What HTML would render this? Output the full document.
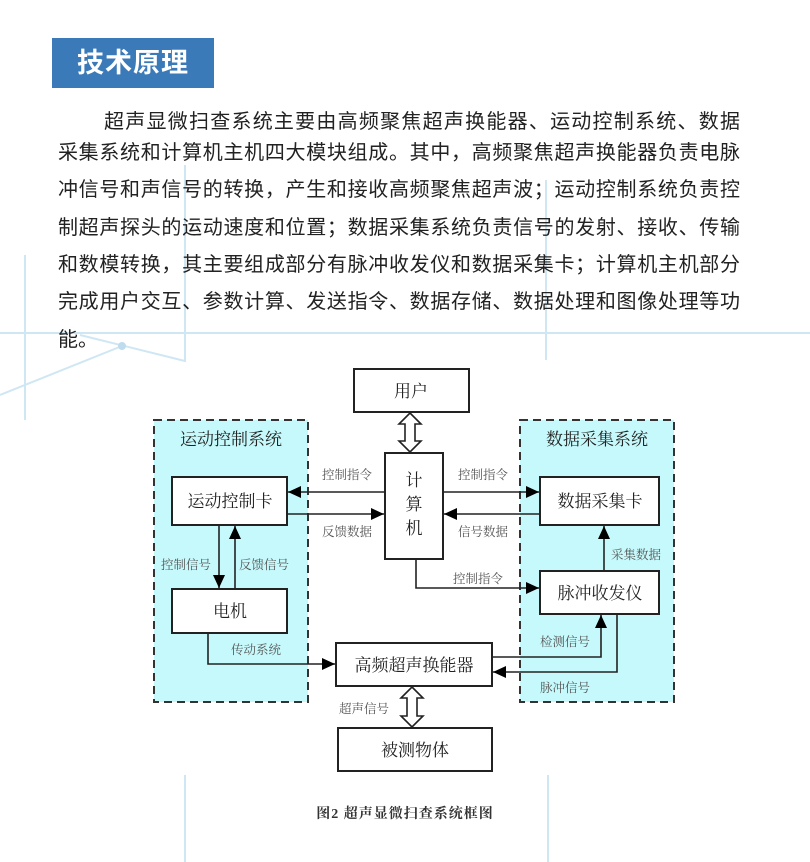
<!DOCTYPE html>
<html><head><meta charset="utf-8">
<style>
html,body{margin:0;padding:0;background:#fff;}
body{width:810px;height:862px;position:relative;overflow:hidden;font-family:"Liberation Sans","Noto Sans CJK SC",sans-serif;}
#bg{position:absolute;left:0;top:0;}
.hdr{position:absolute;left:52px;top:38px;width:162px;height:50px;background:#3a7ab8;color:#fff;font-size:27px;font-weight:bold;line-height:50px;text-align:center;letter-spacing:1px;}
.ln{position:absolute;left:58px;width:682px;height:37px;line-height:37px;font-size:20px;color:#222;text-align:justify;text-align-last:justify;white-space:nowrap;}
#dg{position:absolute;left:0;top:0;}
</style></head><body>
<svg id="bg" width="810" height="862">
<g stroke="#cfe7f3" stroke-width="2" fill="none">
<line x1="0" y1="333" x2="810" y2="333"/>
<line x1="25" y1="255" x2="25" y2="420"/>
<line x1="185" y1="165" x2="185" y2="362"/>
<line x1="546" y1="180" x2="546" y2="360"/>
<line x1="0" y1="395" x2="122" y2="346"/>
<line x1="80" y1="335" x2="185" y2="361"/>
<line x1="185" y1="775" x2="185" y2="862"/>
<line x1="548" y1="775" x2="548" y2="862"/>
</g>
<circle cx="122" cy="346" r="4" fill="#bfdcef"/>
</svg>
<div class="hdr">技术原理</div>
<div class="ln" style="top:104px;left:104px;width:636px">超声显微扫查系统主要由高频聚焦超声换能器、运动控制系统、数据</div>
<div class="ln" style="top:135px">采集系统和计算机主机四大模块组成。其中，高频聚焦超声换能器负责电脉</div>
<div class="ln" style="top:172px">冲信号和声信号的转换，产生和接收高频聚焦超声波；运动控制系统负责控</div>
<div class="ln" style="top:210px">制超声探头的运动速度和位置；数据采集系统负责信号的发射、接收、传输</div>
<div class="ln" style="top:247px">和数模转换，其主要组成部分有脉冲收发仪和数据采集卡；计算机主机部分</div>
<div class="ln" style="top:284px">完成用户交互、参数计算、发送指令、数据存储、数据处理和图像处理等功</div>
<div class="ln" style="top:322px;text-align-last:left">能。</div>
<svg id="dg" width="810" height="862" font-family="'Liberation Serif','Noto Serif CJK SC',serif">
<defs><marker id="a" markerWidth="10" markerHeight="10" refX="9" refY="5" orient="auto" markerUnits="userSpaceOnUse"><path d="M0,0 L10,5 L0,10 Z" fill="#000"/></marker>
<marker id="b" markerWidth="14" markerHeight="14" refX="13" refY="6" orient="auto" markerUnits="userSpaceOnUse"><path d="M0,0 L13,6 L0,12 Z" fill="#000"/></marker></defs>
<rect x="154" y="420" width="154" height="282" fill="#c6f9fb" stroke="#333" stroke-width="2" stroke-dasharray="8,5"/>
<rect x="520" y="420" width="154" height="282" fill="#c6f9fb" stroke="#333" stroke-width="2" stroke-dasharray="8,5"/>
<g fill="#fff" stroke="#222" stroke-width="2">
<rect x="354" y="369" width="115" height="43"/>
<rect x="385" y="453" width="58" height="106"/>
<rect x="172" y="477" width="115" height="48"/>
<rect x="540" y="477" width="119" height="48"/>
<rect x="172" y="589" width="115" height="44"/>
<rect x="540" y="571" width="119" height="43"/>
<rect x="336" y="643" width="156" height="43"/>
<rect x="338" y="728" width="154" height="43"/>
</g>
<g fill="#fff" stroke="#222" stroke-width="1.6">
<path d="M410,413 L421,424 L415,424 L415,441 L421,441 L410,452 L399,441 L405,441 L405,424 L399,424 Z"/>
<path d="M412,687 L423,698 L417,698 L417,716 L423,716 L412,727 L401,716 L407,716 L407,698 L401,698 Z"/>
</g>
<g stroke="#222" stroke-width="1.6" fill="none">
<line x1="385" y1="492" x2="288" y2="492" marker-end="url(#b)"/>
<line x1="287" y1="514" x2="384" y2="514" marker-end="url(#b)"/>
<line x1="443" y1="492" x2="539" y2="492" marker-end="url(#b)"/>
<line x1="540" y1="514" x2="444" y2="514" marker-end="url(#b)"/>
<polyline points="416,559 416,588 539,588" marker-end="url(#b)"/>
<line x1="604" y1="571" x2="604" y2="526" marker-end="url(#b)"/>
<line x1="219" y1="525" x2="219" y2="588" marker-end="url(#b)"/>
<line x1="235" y1="589" x2="235" y2="526" marker-end="url(#b)"/>
<polyline points="208,633 208,664 335,664" marker-end="url(#b)"/>
<polyline points="492,657 601,657 601,615" marker-end="url(#b)"/>
<polyline points="617,614 617,672 493,672" marker-end="url(#b)"/>
</g>
<g font-size="17" fill="#222" text-anchor="middle">
<text x="411" y="397">用户</text>
<text x="414" y="486">计</text><text x="414" y="510">算</text><text x="414" y="534">机</text>
<text x="230" y="507">运动控制卡</text>
<text x="600" y="507">数据采集卡</text>
<text x="230" y="617">电机</text>
<text x="600" y="599">脉冲收发仪</text>
<text x="414" y="671">高频超声换能器</text>
<text x="415" y="756">被测物体</text>
<text x="231" y="445">运动控制系统</text>
<text x="597" y="445">数据采集系统</text>
</g>
<g font-size="12.5" fill="#555" text-anchor="middle">
<text x="347" y="479">控制指令</text>
<text x="347" y="536">反馈数据</text>
<text x="483" y="479">控制指令</text>
<text x="483" y="536">信号数据</text>
<text x="478" y="583">控制指令</text>
<text x="636" y="559">采集数据</text>
<text x="186" y="569">控制信号</text>
<text x="264" y="569">反馈信号</text>
<text x="256" y="654">传动系统</text>
<text x="565" y="646">检测信号</text>
<text x="565" y="692">脉冲信号</text>
<text x="364" y="713">超声信号</text>
</g>
<text x="405" y="818" font-size="14" font-weight="bold" fill="#333" text-anchor="middle" letter-spacing="1">图2  超声显微扫查系统框图</text>
</svg>
</body></html>
